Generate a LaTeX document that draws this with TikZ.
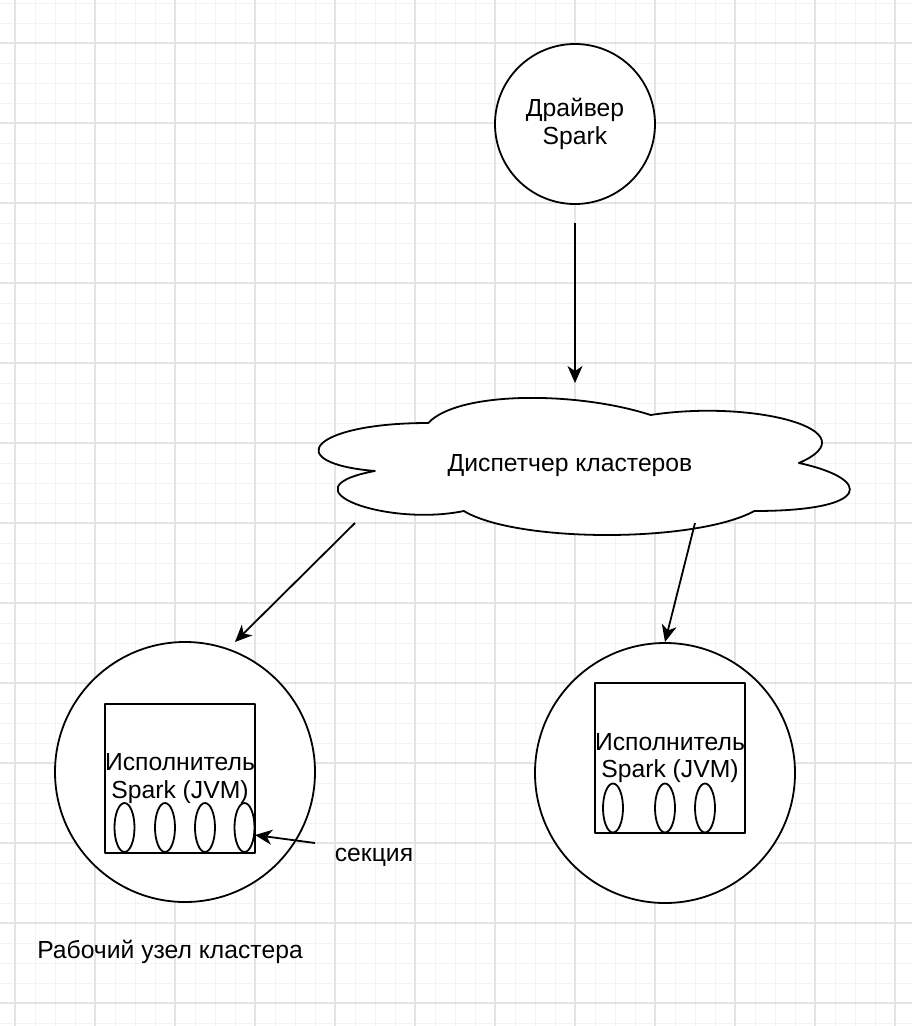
\documentclass[tikz,border=0pt]{standalone}
\usepackage{fontspec}
\setmainfont{Liberation Sans}
\usetikzlibrary{arrows.meta,shapes.geometric}
\definecolor{gridminor}{RGB}{243,243,243}
\definecolor{gridmajor}{RGB}{228,228,228}
\begin{document}
\begin{tikzpicture}[x=1bp,y=-1bp,
  shapeline/.style={draw=black, line width=1.8bp, fill=white, line join=round},
  txt/.style={font=\fontsize{24.7bp}{27.5bp}\selectfont, align=center},
  circ/.style={shapeline, circle, inner sep=0pt, txt},
  execbox/.style={shapeline, rectangle, minimum width=150bp, minimum height=149bp, inner sep=0pt, txt},
  part/.style={shapeline, ellipse, minimum width=20bp, minimum height=49bp, inner sep=0pt},
  conn/.style={draw=black, line width=1.8bp, -{Stealth[length=17bp,width=15bp,inset=5bp]}},
  lbl/.style={txt, inner sep=0pt}
]
\useasboundingbox (0,0) rectangle (912,1026);
\fill[white] (0,0) rectangle (912,1026);
% grid
\foreach \xx in {15,35,...,895} \draw[gridminor, line width=1bp] (\xx,0) -- (\xx,1026);
\foreach \yy in {3,23,...,1023} \draw[gridminor, line width=1bp] (0,\yy) -- (912,\yy);
\foreach \xx in {15,95,...,895} \draw[gridmajor, line width=1.2bp] (\xx,0) -- (\xx,1026);
\foreach \yy in {43,123,...,1003} \draw[gridmajor, line width=1.2bp] (0,\yy) -- (912,\yy);

% driver
\node[circ, minimum size=160bp] (driver) at (575,124) {Драйвер\\Spark};

% cloud
\begin{scope}[shift={(280,383)}, x=593bp, y=-160bp]
\path[shapeline] (0.25,0.25) .. controls (0.05,0.25) and (0,0.5) .. (0.16,0.55)
  .. controls (0,0.66) and (0.18,0.9) .. (0.31,0.8)
  .. controls (0.4,1) and (0.7,1) .. (0.8,0.8)
  .. controls (1,0.8) and (1,0.6) .. (0.875,0.5)
  .. controls (1,0.3) and (0.8,0.1) .. (0.625,0.2)
  .. controls (0.5,0.05) and (0.3,0.05) .. (0.25,0.25) -- cycle;
\end{scope}
\node[lbl] (cm) at (570,466) {Диспетчер кластеров};

% workers
\node[circ, minimum size=260bp] (w1) at (185,772) {};
\node[circ, minimum size=260bp] (w2) at (665,773) {};

\node[execbox] (e1) at (180,778.5) {Исполнитель\\Spark (JVM)};
\node[execbox, minimum height=150bp] (e2) at (670,758) {Исполнитель\\Spark (JVM)};

\node[part] (p11) at (124.5,827.5) {};
\node[part] (p12) at (165,827.5) {};
\node[part] (p13) at (205,827.5) {};
\node[part] (p14) at (244.5,827.5) {};

\node[part] (p21) at (613,808) {};
\node[part] (p22) at (665,808) {};
\node[part] (p23) at (705,808) {};

% labels
\node[lbl] (sec) at (374,857) {секция};
\node[lbl] (wn) at (170,952) {Рабочий узел кластера};

% connectors
\coordinate (d1) at (575,223);
\coordinate (d2) at (575,383);
\coordinate (c1) at (355,523);
\coordinate (t1) at (235,642);
\coordinate (c2) at (695,523);
\coordinate (t2) at (665,642);
\coordinate (s1) at (315,843);
\coordinate (s2) at (255,835);
\draw[conn] (d1) -- (d2);
\draw[conn] (c1) -- (t1);
\draw[conn] (c2) -- (t2);
\draw[conn] (s1) -- (s2);
\end{tikzpicture}
\end{document}
